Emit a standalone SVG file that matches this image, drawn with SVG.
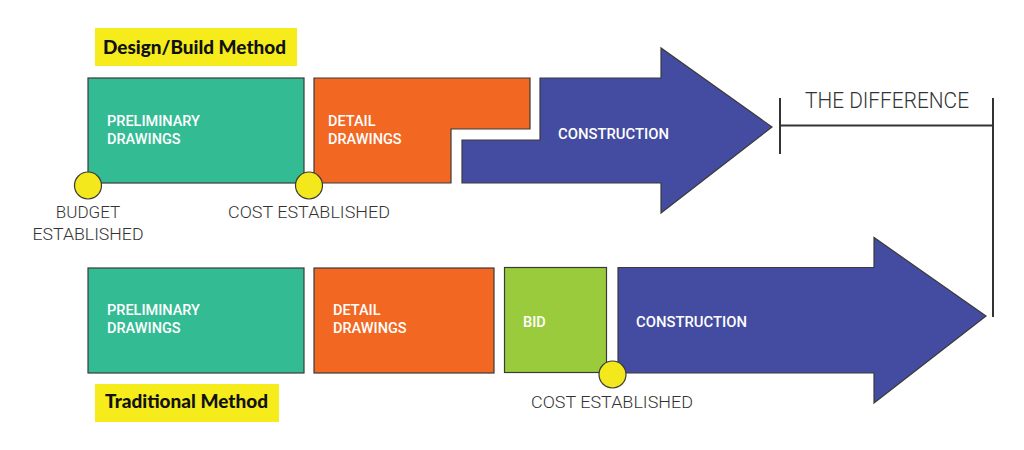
<svg xmlns="http://www.w3.org/2000/svg" width="1024" height="450" viewBox="0 0 1024 450">
<style>
.shape{stroke:#3a3a3a;stroke-width:1.2}
.teal{fill:#33bb94}
.orange{fill:#f26722}
.blue{fill:#434ca0}
.green{fill:#9acb3c}
.dot{fill:#f3e81c;stroke:#3a3a3a;stroke-width:1.2}
.lbl{fill:#f6ec1b}
.title{font-family:Lato,"Liberation Sans",sans-serif;font-weight:900;font-size:19px;fill:#111}
.inner{font-family:Roboto,"Liberation Sans",sans-serif;font-weight:500;font-size:14.5px;fill:#fff}
.note{font-family:Roboto,"Liberation Sans",sans-serif;font-weight:300;font-size:17px;fill:#333}
.big{font-family:Roboto,"Liberation Sans",sans-serif;font-weight:300;font-size:22px;fill:#333}
.line{stroke:#333;stroke-width:2;fill:none}
</style>
<rect width="1024" height="450" fill="#fff"/>

<g id="label-design-build">
<rect class="lbl" x="95" y="28" width="202" height="38"/>
<text class="title" x="103" y="54" textLength="183" lengthAdjust="spacingAndGlyphs">Design/Build Method</text>
</g>

<g id="db-preliminary">
<rect class="shape teal" x="88" y="78" width="216" height="105"/>
<text class="inner" x="107" y="126">PRELIMINARY</text>
<text class="inner" x="107" y="144">DRAWINGS</text>
</g>

<g id="db-detail">
<polygon class="shape orange" points="314,78 530,78 530,129 451,129 451,183 314,183"/>
<text class="inner" x="328" y="126">DETAIL</text>
<text class="inner" x="328" y="144">DRAWINGS</text>
</g>

<g id="db-construction">
<polygon class="shape blue" points="540,78 661,78 661,48 772,127 661,213 661,183 462,183 462,140 540,140"/>
<text class="inner" x="558" y="139" textLength="111" lengthAdjust="spacingAndGlyphs">CONSTRUCTION</text>
</g>

<g id="db-budget">
<circle class="dot" cx="88" cy="185.5" r="13.5"/>
<text class="note" x="88" y="218" text-anchor="middle">BUDGET</text>
<text class="note" x="88" y="240" text-anchor="middle" textLength="111" lengthAdjust="spacingAndGlyphs">ESTABLISHED</text>
</g>

<g id="db-cost">
<circle class="dot" cx="309" cy="185.5" r="13.5"/>
<text class="note" x="228" y="218" textLength="162" lengthAdjust="spacingAndGlyphs">COST ESTABLISHED</text>
</g>

<g id="difference">
<text class="big" x="805" y="108" textLength="164" lengthAdjust="spacingAndGlyphs">THE DIFFERENCE</text>
</g>

<g id="connectors">
<line class="line" x1="780" y1="98" x2="780" y2="154"/>
<line class="line" x1="780" y1="125.5" x2="993" y2="125.5"/>
<line class="line" x1="993" y1="98" x2="993" y2="317"/>
</g>

<g id="tr-preliminary">
<rect class="shape teal" x="88" y="268" width="216" height="105"/>
<text class="inner" x="107" y="315">PRELIMINARY</text>
<text class="inner" x="107" y="333">DRAWINGS</text>
</g>

<g id="tr-detail">
<rect class="shape orange" x="314" y="268" width="180" height="105"/>
<text class="inner" x="333" y="315">DETAIL</text>
<text class="inner" x="333" y="333">DRAWINGS</text>
</g>

<g id="tr-bid">
<rect class="shape green" x="504.5" y="267.5" width="102" height="105"/>
<text class="inner" x="523" y="327">BID</text>
</g>

<g id="tr-construction">
<polygon class="shape blue" points="618,267.5 874,267.5 874,237.5 986,316 874,403 874,373 618,373"/>
<text class="inner" x="636" y="327" textLength="111" lengthAdjust="spacingAndGlyphs">CONSTRUCTION</text>
</g>

<g id="tr-cost">
<circle class="dot" cx="612.5" cy="374.5" r="13.5"/>
<text class="note" x="531" y="408" textLength="162" lengthAdjust="spacingAndGlyphs">COST ESTABLISHED</text>
</g>

<g id="label-traditional">
<rect class="lbl" x="95" y="384" width="184" height="38"/>
<text class="title" x="105" y="408" textLength="163" lengthAdjust="spacingAndGlyphs">Traditional Method</text>
</g>
</svg>
